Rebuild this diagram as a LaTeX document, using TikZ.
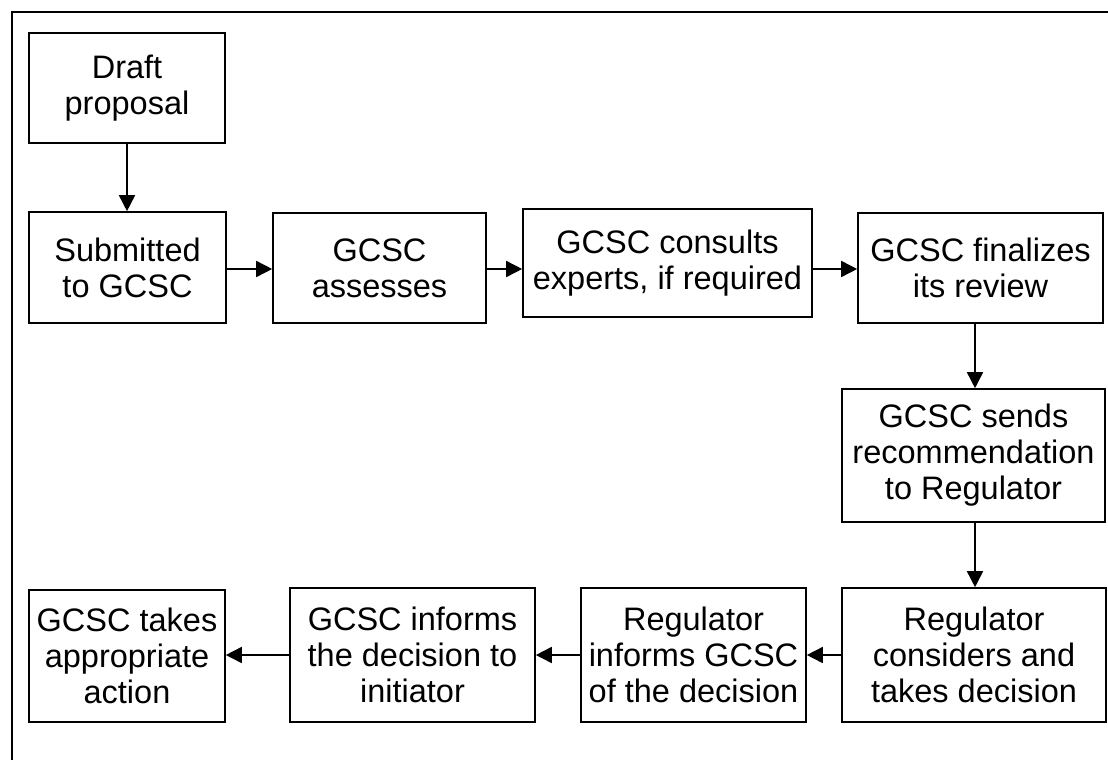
\documentclass[tikz,border=0pt]{standalone}
\usepackage{fontspec}
\setmainfont{Liberation Sans}
\usetikzlibrary{arrows.meta}
\begin{document}
\begin{tikzpicture}[x=1pt,y=-1pt,
  stepbox/.style={draw, line width=1.6pt, align=center, inner sep=0pt,
    font=\fontsize{32.5}{36}\selectfont},
  conn/.style={line width=1.6pt, -{Triangle[length=16pt,width=16pt]}},
  frameline/.style={line width=1.8pt}]
\useasboundingbox (0,0) rectangle (1108,760);
\coordinate (ftl) at (12,12);
\coordinate (ftr) at (1108,12);
\coordinate (fbl) at (12,760);
\draw[frameline] (fbl) -- (ftl) -- (ftr);
\node[stepbox, minimum width=196pt, minimum height=110pt] (draft) at (127,88) {Draft\\proposal};
\node[stepbox, minimum width=197pt, minimum height=111pt] (submit) at (127.5,267.5) {Submitted\\to GCSC};
\node[stepbox, minimum width=213pt, minimum height=110pt] (assess) at (379.5,268) {GCSC\\assesses};
\node[stepbox, minimum width=289pt, minimum height=108pt] (consult) at (667.5,263) {GCSC consults\\experts, if required};
\node[stepbox, minimum width=245pt, minimum height=110pt] (final) at (980.5,268) {GCSC finalizes\\its review};
\node[stepbox, minimum width=263pt, minimum height=133pt] (sends) at (973.5,455.5) {GCSC sends\\recommendation\\to Regulator};
\node[stepbox, minimum width=264pt, minimum height=134pt] (consider) at (974,655) {Regulator\\considers and\\takes decision};
\node[stepbox, minimum width=225pt, minimum height=134pt] (reginf) at (693.5,655) {Regulator\\informs GCSC\\of the decision};
\node[stepbox, minimum width=245pt, minimum height=134pt] (decinf) at (412.5,655) {GCSC informs\\the decision to\\initiator};
\node[stepbox, minimum width=196pt, minimum height=132pt] (takes) at (127,656) {GCSC takes\\appropriate\\action};
\draw[conn] (draft.south) -- (draft.south |- submit.north);
\draw[conn] (submit.east |- 0,269) -- (assess.west |- 0,269);
\draw[conn] (assess.east |- 0,269) -- (consult.west |- 0,269);
\draw[conn] (consult.east |- 0,269) -- (final.west |- 0,269);
\draw[conn] (final.south -| 975,0) -- (sends.north -| 975,0);
\draw[conn] (sends.south -| 975,0) -- (consider.north -| 975,0);
\draw[conn] (consider.west) -- (reginf.east);
\draw[conn] (reginf.west) -- (decinf.east);
\draw[conn] (decinf.west) -- (takes.east |- decinf.west);
\end{tikzpicture}
\end{document}
